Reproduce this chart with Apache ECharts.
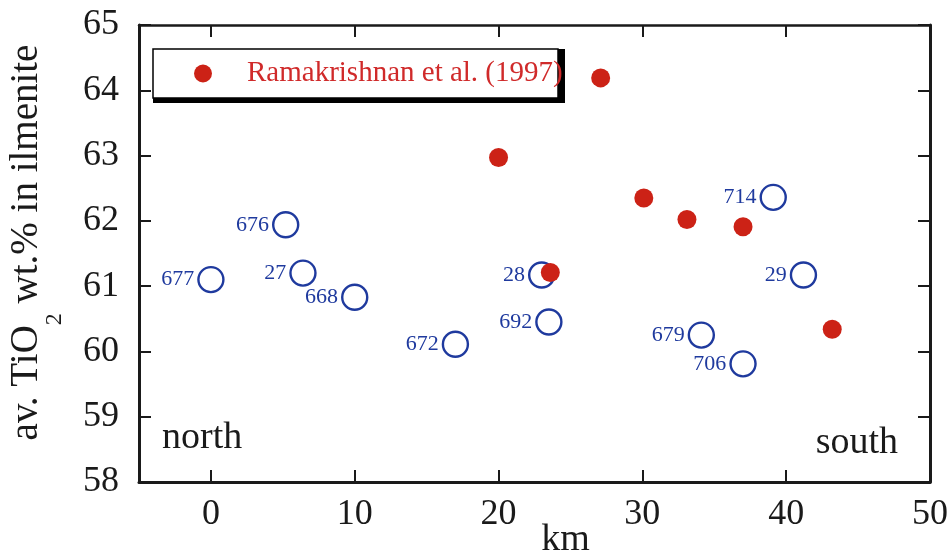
<!DOCTYPE html>
<html>
<head>
<meta charset="utf-8">
<script src="https://cdn.jsdelivr.net/npm/echarts@6/dist/echarts.min.js"></script>
<style>
html,body{margin:0;padding:0;background:#fff;}
#chart{width:950px;height:557px;}
</style>
</head>
<body>
<div id="chart"></div>
<script>
// Sample sites (blue open circles)
const siteLabels = ['677','676','27','668','672','28','692','679','706','714','29'];
const siteKm     = [0, 5.2, 6.4, 10, 17, 23, 23.5, 34.1, 37, 39.1, 41.2];
const siteTiO2   = [61.1, 61.94, 61.2, 60.83, 60.11, 61.17, 60.45, 60.25, 59.81, 62.36, 61.17];
// Ramakrishnan et al. (1997) (red dots)
const ramaKm   = [20, 27.1, 30.1, 33.1, 37, 23.6, 43.2];
const ramaTiO2 = [62.97, 64.19, 62.35, 62.02, 61.91, 61.21, 60.34];
// Axis ticks
const xTicks = [0, 10, 20, 30, 40, 50];
const xTopTicks = [0, 10, 20, 30, 40];
const yTicks = [58, 59, 60, 61, 62, 63, 64, 65];
const ramaName = 'Ramakrishnan et al. (1997)';

const SERIF = '"Liberation Serif", "Times New Roman", serif';
const INK = '#1a1a1a';
const BLUE = '#1f3a9e';
const RED = '#cc2216';

const chart = echarts.init(document.getElementById('chart'), null, {renderer: 'canvas'});

const siteData = siteKm.map((x, i) => ({name: siteLabels[i], value: [x, siteTiO2[i]]}));
const ramaData = ramaKm.map((x, i) => [x, ramaTiO2[i]]);

const baseX = {
  type: 'value', min: -5, max: 50,
  splitLine: {show: false},
  axisLine: {show: true, onZero: false, lineStyle: {color: INK, width: 3}},
  axisTick: {show: true, inside: true, length: 12, lineStyle: {color: INK, width: 2}}
};
const baseY = {
  type: 'value', min: yTicks[0], max: yTicks[yTicks.length - 1], interval: 1,
  splitLine: {show: false},
  axisLine: {show: true, onZero: false, lineStyle: {color: INK, width: 3}},
  axisTick: {show: true, inside: true, length: 12, lineStyle: {color: INK, width: 2}}
};

chart.setOption({
  backgroundColor: '#fff',
  animation: false,
  grid: {left: 139, right: 20, top: 25, bottom: 75, containLabel: false, outerBoundsMode: 'none'},
  legend: {
    data: [ramaName],
    left: 153, top: 49,
    padding: [10, 0, 10, 41],
    itemWidth: 18, itemHeight: 18,
    backgroundColor: 'rgba(0,0,0,0)',
    z: 10,
    textStyle: {color: '#d02a2a', fontSize: 29, fontFamily: SERIF, padding: [0, 0, 0, 30]}
  },
  xAxis: [
    Object.assign({}, baseX, {
      position: 'bottom',
      name: 'km', nameLocation: 'middle', nameGap: 39, nameMoveOverlap: false,
      nameTextStyle: {color: INK, fontSize: 38, fontFamily: SERIF, padding: [0, 0, 0, 62]},
      axisTick: Object.assign({}, baseX.axisTick, {customValues: xTicks}),
      axisLabel: {customValues: xTicks, color: INK, fontSize: 36, fontFamily: SERIF, margin: 15}
    }),
    Object.assign({}, baseX, {
      position: 'top',
      axisLine: {show: true, onZero: false, lineStyle: {color: INK, width: 2.5}},
      axisTick: Object.assign({}, baseX.axisTick, {customValues: xTopTicks}),
      axisLabel: {show: false}
    })
  ],
  yAxis: [
    Object.assign({}, baseY, {
      position: 'left',
      name: '{a|av. TiO}{s|2}{a| wt.% in ilmenite}',
      nameLocation: 'middle', nameRotate: 90, nameGap: 72,
      nameTextStyle: {
        color: INK, fontSize: 39, fontFamily: SERIF, padding: [0, 0, 0, 22],
        rich: {
          a: {color: INK, fontSize: 39, fontFamily: SERIF, lineHeight: 39, verticalAlign: 'top'},
          s: {color: INK, fontSize: 24, fontFamily: SERIF, lineHeight: 60, verticalAlign: 'bottom'}
        }
      },
      axisLabel: {color: INK, fontSize: 36, fontFamily: SERIF, margin: 20}
    }),
    Object.assign({}, baseY, {
      position: 'right',
      axisLabel: {show: false}
    })
  ],
  graphic: [
    {type: 'rect', z: 1, shape: {x: 153, y: 49, width: 412, height: 54}, style: {fill: '#000'}},
    {type: 'rect', z: 2, shape: {x: 153, y: 49, width: 405, height: 49}, style: {fill: '#fff', stroke: '#000', lineWidth: 1.5}},
    {type: 'text', left: 162, top: 419, style: {text: 'north', fill: INK, font: '38px ' + SERIF}},
    {type: 'text', right: 52, top: 424, style: {text: 'south', fill: INK, font: '38px ' + SERIF}}
  ],
  series: [
    {
      name: 'sites', type: 'scatter', xAxisIndex: 0, yAxisIndex: 0,
      data: siteData,
      symbol: 'circle', symbolSize: 25,
      itemStyle: {color: 'rgba(255,255,255,0)', borderColor: BLUE, borderWidth: 2.4, opacity: 1},
      label: {show: true, position: 'left', distance: 3, formatter: '{b}',
              color: BLUE, fontSize: 22, fontFamily: SERIF},
      z: 2
    },
    {
      name: ramaName, type: 'scatter', xAxisIndex: 0, yAxisIndex: 0,
      data: ramaData,
      symbol: 'circle', symbolSize: 19,
      itemStyle: {color: RED, opacity: 1},
      z: 3
    }
  ]
});
</script>
</body>
</html>
